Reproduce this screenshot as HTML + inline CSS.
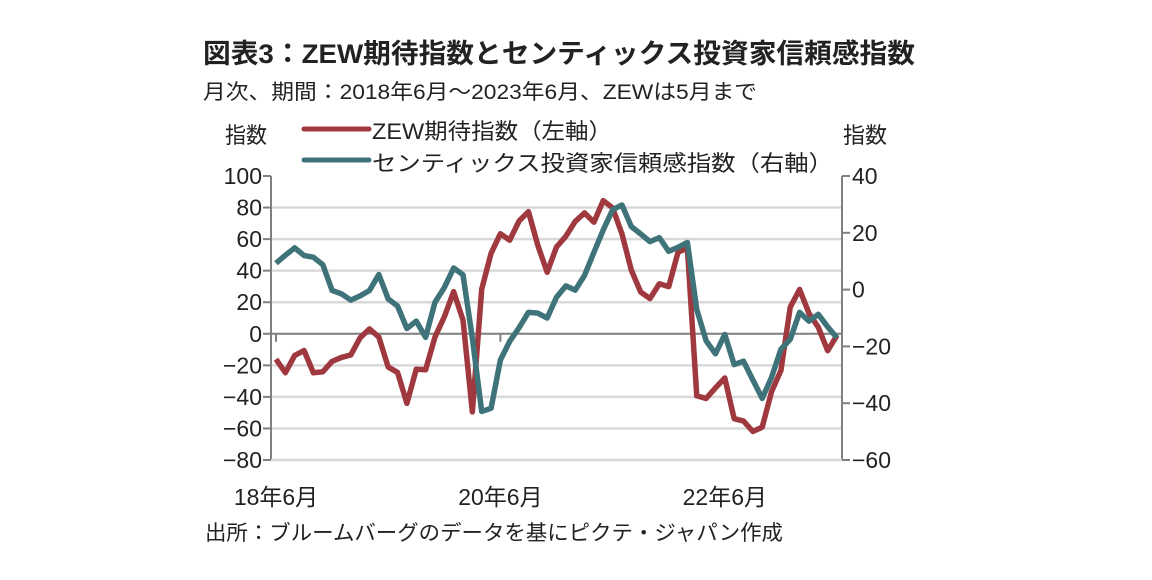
<!DOCTYPE html>
<html><head><meta charset="utf-8"><style>
html,body{margin:0;padding:0;background:#fff;}
svg{display:block;}
text{font-family:"Liberation Sans","Noto Sans CJK JP",sans-serif;fill:#222;}
</style></head><body>
<svg id="chart" width="1152" height="580" viewBox="0 0 1152 580">
<text x="203" y="63" font-size="27" font-weight="bold" textLength="712" lengthAdjust="spacingAndGlyphs">図表3：ZEW期待指数とセンティックス投資家信頼感指数</text>
<text x="203" y="99" font-size="21" textLength="554" lengthAdjust="spacingAndGlyphs">月次、期間：2018年6月～2023年6月、ZEWは5月まで</text>
<text x="225" y="143" font-size="22" textLength="42" lengthAdjust="spacingAndGlyphs">指数</text>
<text x="843" y="143" font-size="22" textLength="44" lengthAdjust="spacingAndGlyphs">指数</text>
<g>
<line x1="304" y1="129" x2="369" y2="129" stroke="#a0393f" stroke-width="5" stroke-linecap="round"/>
<text x="372" y="139" font-size="22" textLength="240" lengthAdjust="spacingAndGlyphs">ZEW期待指数（左軸）</text>
<line x1="304" y1="160" x2="369" y2="160" stroke="#3f737a" stroke-width="5" stroke-linecap="round"/>
<text x="372" y="171" font-size="22" textLength="461" lengthAdjust="spacingAndGlyphs">センティックス投資家信頼感指数（右軸）</text>
</g>
<g id="grid"></g>
<g id="axes"></g>
<g id="series"></g>
<text x="205" y="540" font-size="21" textLength="578" lengthAdjust="spacingAndGlyphs">出所：ブルームバーグのデータを基にピクテ・ジャパン作成</text>
</svg>
<script>
const zewValues=[-16.1,-24.7,-13.7,-10.6,-24.7,-24.1,-17.5,-15.0,-13.4,-2.5,3.1,-2.1,-21.1,-24.5,-44.1,-22.5,-22.8,-2.1,10.7,26.7,8.7,-49.5,28.2,51.0,63.4,59.3,71.5,77.4,56.1,39.0,55.0,61.8,71.2,76.6,70.7,84.4,79.8,63.3,40.4,26.5,22.3,31.7,29.9,51.7,54.3,-39.3,-41.0,-34.3,-28.0,-53.8,-55.3,-61.9,-59.2,-36.7,-23.3,16.9,28.1,13.0,4.1,-10.7,-1.0];
const sentixValues=[9.3,12.1,14.7,12.0,11.4,8.8,-0.3,-1.5,-3.7,-2.2,-0.3,5.3,-3.3,-5.8,-13.7,-11.1,-16.8,-4.5,0.7,7.6,5.2,-17.1,-42.9,-41.8,-24.8,-18.2,-13.4,-8.0,-8.3,-10.0,-2.7,1.3,-0.2,5.0,13.1,21.0,28.1,29.8,22.2,19.6,16.9,18.3,13.5,14.9,16.6,-7.0,-18.0,-22.6,-15.8,-26.4,-25.2,-31.8,-38.3,-30.9,-21.0,-17.5,-8.0,-11.1,-8.7,-13.1,-17.0];
const leftTicks=[100,80,60,40,20,0,-20,-40,-60,-80];
const rightTicks=[40,20,0,-20,-40,-60];
const xTickIndex=[0,24,48];
const xTickLabels=["18年6月","20年6月","22年6月"];
const NS="http://www.w3.org/2000/svg";
const X0=271,X1=842,Y0=176,Y1=460,P0=276,STEP=9.35;
const xs=i=>P0+i*STEP;
const yL=v=>Y0+(100-v)/180*(Y1-Y0);
const yR=v=>Y0+(40-v)/100*(Y1-Y0);
function mk(tag,attrs,parent){const e=document.createElementNS(NS,tag);for(const k in attrs)e.setAttribute(k,attrs[k]);parent.appendChild(e);return e;}
const grid=document.getElementById('grid'),axes=document.getElementById('axes'),series=document.getElementById('series');
leftTicks.forEach(v=>{
  const y=yL(v);
  if(v!==0&&v!==100){const g=mk('line',{x1:X0,x2:X1,y1:y,y2:y,stroke:'#d9d9d9','stroke-width':2.5},grid);
  
  }
  const t=mk('line',{x1:X0-8,x2:X0,y1:y,y2:y,stroke:'#7f7f7f','stroke-width':2},axes);
  
  
  const lb=mk('text',{x:262,y:y+8,'font-size':23,'text-anchor':'end'},axes);
  lb.textContent=(v<0?'−'+(-v):String(v));
  
  
});
rightTicks.forEach(v=>{
  const y=yR(v);
  const t=mk('line',{x1:X1,x2:X1+8,y1:y,y2:y,stroke:'#7f7f7f','stroke-width':2},axes);
  
  
  const lb=mk('text',{x:852,y:y+8,'font-size':23},axes);
  lb.textContent=(v<0?'−'+(-v):String(v));
  
  
});
const la=mk('line',{x1:X0,x2:X0,y1:Y0,y2:Y1,stroke:'#7f7f7f','stroke-width':2},axes);


const ra=mk('line',{x1:X1,x2:X1,y1:Y0,y2:Y1,stroke:'#7f7f7f','stroke-width':2},axes);


const za=mk('line',{x1:X0,x2:X1,y1:yL(0),y2:yL(0),stroke:'#7f7f7f','stroke-width':2},axes);


const ba=mk('line',{x1:X0,x2:X1,y1:Y1,y2:Y1,stroke:'#d9d9d9','stroke-width':2.5},axes);


xTickIndex.forEach((ix,k)=>{
  const x=xs(ix);
  const t=mk('line',{x1:x,x2:x,y1:yL(0),y2:yL(0)+8,stroke:'#7f7f7f','stroke-width':2},axes);
  
  
  const lb=mk('text',{x:x,y:505,'font-size':23,'text-anchor':'middle'},axes);
  lb.textContent=xTickLabels[k];
  
  
});
const zp=mk('polyline',{points:zewValues.map((v,i)=>xs(i)+','+yL(v)).join(' '),fill:'none',stroke:'#a0393f','stroke-width':5.5,'stroke-linejoin':'round'},series);


const sp=mk('polyline',{points:sentixValues.map((v,i)=>xs(i)+','+yR(v)).join(' '),fill:'none',stroke:'#3f737a','stroke-width':5.5,'stroke-linejoin':'round'},series);


</script>
</body></html>
